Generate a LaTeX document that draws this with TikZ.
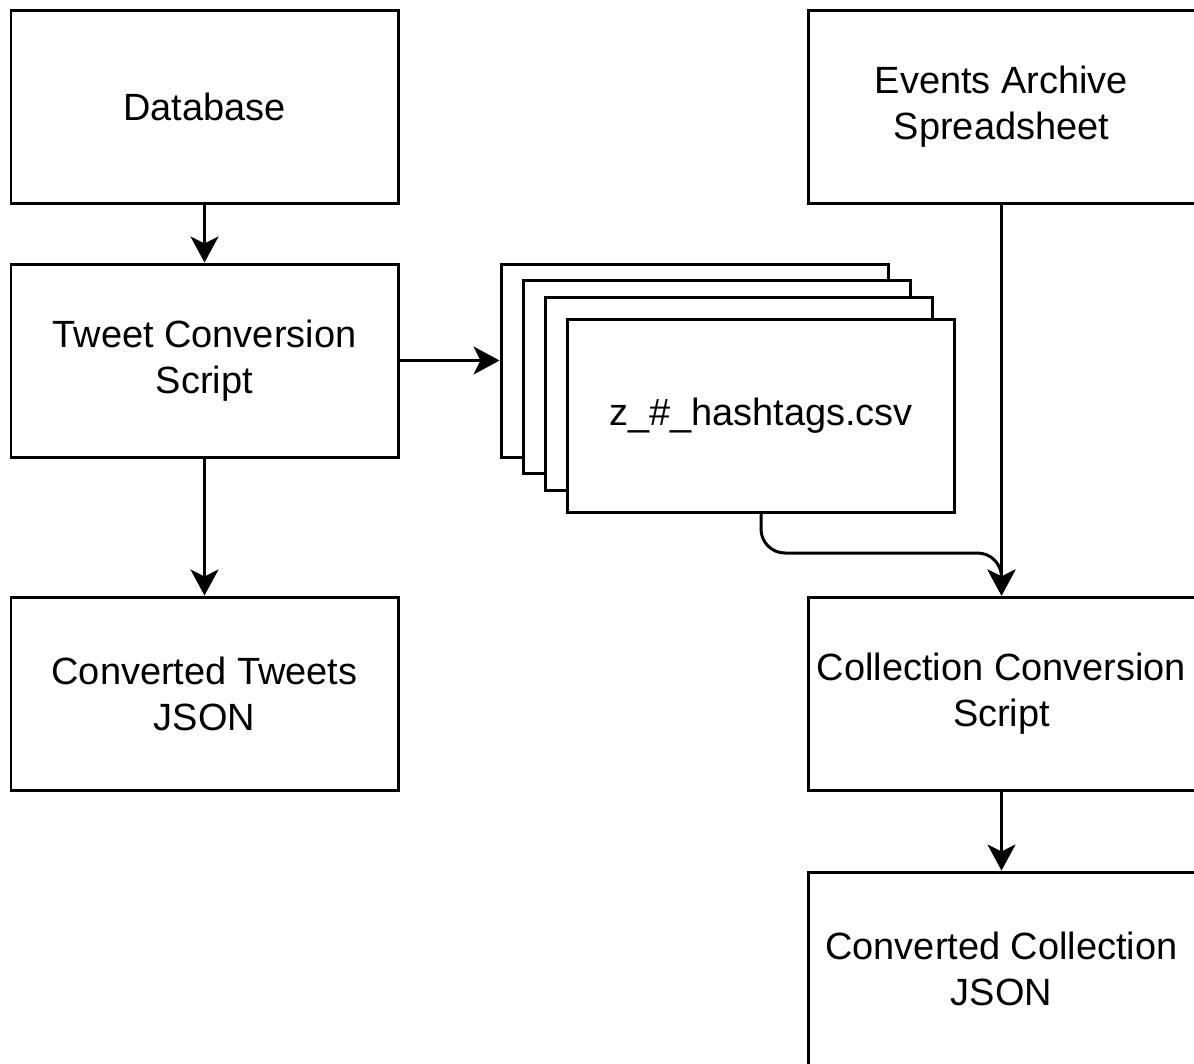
\documentclass[tikz,border=0pt]{standalone}
\usepackage{fontspec}
\setmainfont{Liberation Sans}
\usepackage{tikz}
\usetikzlibrary{arrows.meta,positioning,calc}

\begin{document}
\begin{tikzpicture}[
  box/.style={draw=black,fill=white,line width=1.7pt,minimum width=7.74cm,
              minimum height=3.86cm,inner sep=0pt,align=center,
              font=\fontsize{21.6}{26.2}\selectfont},
  flow/.style={line width=1.7pt,-{Stealth[length=0.52cm,width=0.56cm,inset=0.14cm]}},
]
\useasboundingbox (0,0) rectangle (23.88,-21.26);
\node[box] (db) at (4.09,-2.13) {Database};
\node[box] (tweetconv) at (4.09,-7.21) {Tweet Conversion\\Script};
\node[box] (tweetjson) at (4.09,-13.87) {Converted Tweets\\JSON};
\node[box] (events) at (20.03,-2.13) {Events Archive\\Spreadsheet};
\node[box] (collconv) at (20.03,-13.87) {Collection Conversion\\Script};
\node[box] (colljson) at (20.03,-19.37) {Converted Collection\\JSON};
\node[box] (csv1) at (13.89,-7.21) {};
\node[box] (csv2) at (14.33,-7.53) {};
\node[box] (csv3) at (14.77,-7.87) {};
\node[box] (csv4) at (15.22,-8.31) {z\_\#\_hashtags.csv};
\coordinate (merge) at ($(collconv.north)+(0,0.85)$);
\draw[flow] (db) -- (tweetconv);
\draw[flow] (tweetconv) -- (tweetjson);
\draw[flow] (tweetconv.east) -- (csv1.west);
\draw[flow] (events) -- (collconv);
\draw[flow,rounded corners=0.48cm] (csv4.south) |- (merge) -- (collconv.north);
\draw[flow] (collconv) -- (colljson);
\end{tikzpicture}
\end{document}
